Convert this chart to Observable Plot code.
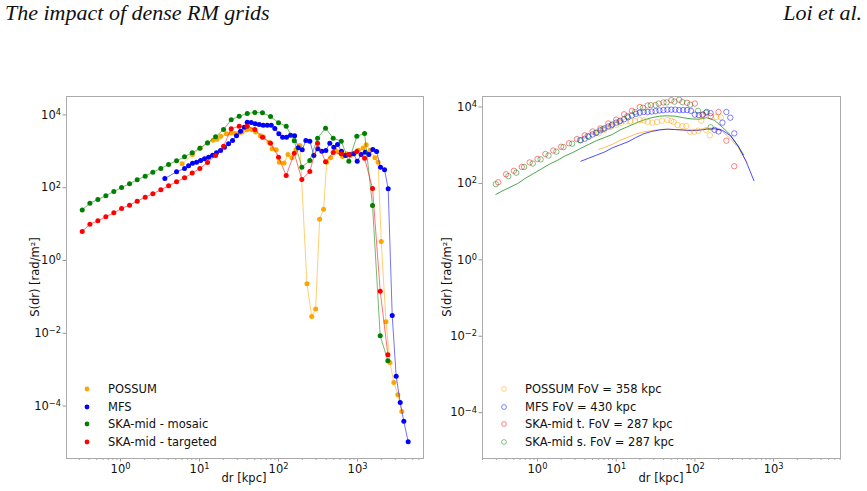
<!DOCTYPE html>
<html>
<head>
<meta charset="utf-8">
<script src="https://cdn.jsdelivr.net/npm/d3@7"></script>
<script src="https://cdn.jsdelivr.net/npm/@observablehq/plot@0.6"></script>
<style>
  html, body { margin: 0; padding: 0; background: #fff; }
  #wrap { position: relative; width: 867px; height: 491px; overflow: hidden; font-family: "DejaVu Sans", sans-serif; }
  .pl { position: absolute; top: 0; }
  .hdr { position: absolute; top: 0px; font-family: "Liberation Serif", serif; font-style: italic; font-size: 22px; line-height: 26px; color: #111; white-space: nowrap; }
  .lab { position: absolute; font-size: 11.5px; color: #111; white-space: nowrap; transform: translate(-50%, -50%); }
  .ylab { transform: translate(-50%, -50%) rotate(-90deg); }
  .leg { position: absolute; font-size: 11.5px; color: #111; white-space: nowrap; height: 16px; line-height: 16px; }
  .leg svg { position: absolute; top: 4px; }
</style>
</head>
<body>
<div id="wrap"></div>
<script>
// ---------- data (log10 values) ----------
// Left panel: S(dr) for each survey
const skaLogDr = [-0.485,-0.388,-0.287,-0.186,-0.085,0.013,0.114,0.211,0.312,0.409,0.51,0.608,0.709,0.81,0.907,1.004,1.101,1.203,1.304,1.401,1.502,1.604,1.70,1.797,1.899,2.0,2.097,2.199,2.295,2.396,2.494,2.595,2.692,2.794,2.89,2.991,3.089,3.19,3.287,3.384];
const mosaicLogS = [1.39,1.575,1.676,1.777,1.896,2.005,2.107,2.217,2.316,2.426,2.527,2.637,2.739,2.849,2.959,3.085,3.233,3.398,3.599,3.865,3.964,4.038,4.066,4.057,3.956,3.783,3.69,3.288,2.563,2.747,3.36,3.635,3.36,3.277,2.728,3.415,3.489,1.511,-2.07,-2.755];
const targetedLogS = [0.797,0.997,1.09,1.2,1.31,1.429,1.52,1.63,1.74,1.832,1.942,2.052,2.162,2.272,2.40,2.527,2.692,2.885,3.14,3.618,3.69,3.69,3.599,3.387,3.222,2.838,2.335,2.948,2.225,2.445,3.222,2.711,2.967,2.931,2.912,2.995,2.81,1.978,-0.843,-2.59];
const mfsLogDr = [0.561,0.709,0.81,0.861,0.911,0.962,1.013,1.063,1.114,1.165,1.215,1.266,1.316,1.367,1.418,1.468,1.519,1.566,1.604,1.654,1.705,1.756,1.806,1.857,1.908,1.953,2.004,2.051,2.101,2.152,2.203,2.249,2.30,2.346,2.396,2.447,2.497,2.548,2.599,2.649,2.70,2.747,2.797,2.848,2.899,2.949,2.996,3.046,3.097,3.143,3.194,3.241,3.291,3.342,3.388,3.439,3.489,3.54,3.586,3.641];
const mfsLogS = [2.253,2.437,2.527,2.601,2.674,2.70,2.747,2.794,2.838,2.893,2.959,3.022,3.113,3.205,3.297,3.426,3.553,3.663,3.80,3.79,3.755,3.736,3.717,3.717,3.717,3.626,3.48,3.387,3.387,3.442,3.426,3.096,3.041,3.297,3.277,2.885,3.069,3.003,3.022,3.222,3.113,3.187,3.003,2.885,2.912,2.931,2.728,2.912,2.975,2.912,3.05,2.995,2.563,2.49,1.97,-1.511,-3.178,-3.90,-4.42,-4.98];
const possumLogDr = [0.78,0.91,1.01,1.10,1.17,1.22,1.27,1.34,1.40,1.45,1.50,1.54,1.60,1.66,1.71,1.77,1.81,1.88,1.92,1.97,2.01,2.07,2.12,2.17,2.22,2.27,2.36,2.42,2.47,2.52,2.57,2.61,2.66,2.72,2.77,2.81,2.86,2.91,2.96,3.01,3.07,3.11,3.16,3.22,3.26,3.30,3.36,3.41,3.46,3.51,3.56];
const possumLogS = [2.655,2.91,3.09,3.22,3.30,3.33,3.41,3.48,3.50,3.49,3.50,3.53,3.59,3.59,3.53,3.43,3.39,3.25,3.07,3.04,2.70,2.68,2.91,2.82,3.04,3.16,-0.64,-1.54,-1.33,1.13,1.41,2.70,2.82,3.03,2.97,2.86,2.93,2.885,2.93,3.03,3.09,3.18,3.03,2.82,2.70,0.52,-1.68,-2.80,-3.35,-3.69,-4.15];

// Right panel: open circles (within FoV) and curves
const fovPossumLogDr = [0.78,0.85,0.93,1.00,1.06,1.12,1.18,1.24,1.30,1.35,1.40,1.46,1.52,1.58,1.65,1.70,1.73,1.78,1.84,1.89,1.94,1.99,2.04,2.08,2.14,2.19,2.27,2.33];
const fovPossumLogS = [3.31,3.40,3.48,3.53,3.58,3.62,3.63,3.63,3.66,3.65,3.61,3.59,3.61,3.64,3.66,3.64,3.61,3.53,3.50,3.50,3.35,3.35,3.38,3.64,3.40,3.26,3.74,3.73];
const fovMfsLogDr = [0.55,0.60,0.65,0.70,0.75,0.80,0.85,0.90,0.95,1.00,1.05,1.10,1.15,1.20,1.25,1.30,1.35,1.40,1.45,1.50,1.55,1.60,1.65,1.70,1.75,1.80,1.85,1.90,1.95,2.00,2.05,2.10,2.15,2.20,2.25,2.30,2.35,2.40,2.45,2.50];
const fovMfsLogS = [3.13,3.17,3.22,3.28,3.33,3.39,3.44,3.49,3.54,3.59,3.64,3.68,3.73,3.78,3.82,3.85,3.87,3.87,3.88,3.89,3.91,3.92,3.93,3.93,3.93,3.92,3.92,3.92,3.90,3.80,3.79,3.80,3.87,3.84,3.40,3.36,3.59,3.87,3.72,3.31];
const fovTargLogDr = [-0.50,-0.40,-0.30,-0.20,-0.10,0.00,0.10,0.20,0.30,0.40,0.50,0.60,0.70,0.80,0.90,1.00,1.10,1.20,1.30,1.40,1.50,1.60,1.70,1.80,1.90,2.00,2.10,2.20,2.30,2.40,2.50];
const fovTargLogS = [2.03,2.24,2.33,2.43,2.55,2.64,2.77,2.86,2.96,3.05,3.16,3.26,3.36,3.44,3.57,3.67,3.81,3.90,4.00,4.04,4.05,4.12,4.18,4.19,4.11,4.09,3.80,3.76,3.87,3.12,2.45];
const fovMosLogDr = [-0.53,-0.37,-0.27,-0.17,-0.06,0.04,0.14,0.24,0.33,0.44,0.54,0.64,0.74,0.83,0.94,1.04,1.14,1.24,1.34,1.44,1.54,1.64,1.74,1.84,1.94,2.04,2.14,2.20];
const fovMosLogS = [1.98,2.19,2.28,2.43,2.52,2.63,2.73,2.83,2.95,3.04,3.13,3.24,3.32,3.42,3.52,3.62,3.76,3.87,3.98,4.05,4.09,4.12,4.14,4.13,4.06,3.90,3.85,3.47];
const curveMosLogDr = [-0.53,-0.45,-0.35,-0.25,-0.15,-0.05,0.05,0.15,0.25,0.35,0.45,0.55,0.65,0.75,0.85,0.95,1.05,1.15,1.25,1.35,1.45,1.55,1.65,1.75,1.85,1.95,2.05,2.15,2.25,2.35,2.45,2.55,2.62];
const curveMosLogS = [1.71,1.80,1.90,2.00,2.14,2.26,2.38,2.50,2.60,2.72,2.81,2.92,3.02,3.12,3.20,3.28,3.40,3.49,3.58,3.66,3.72,3.76,3.77,3.76,3.72,3.69,3.68,3.72,3.65,3.47,3.27,2.97,2.75];
const curvePossumLogDr = [0.78,0.85,0.95,1.05,1.15,1.25,1.35,1.45,1.55,1.65,1.75,1.85,1.95,2.05,2.15,2.25,2.35,2.45,2.55,2.66];
const curvePossumLogS = [2.89,2.94,3.02,3.13,3.21,3.29,3.35,3.38,3.41,3.42,3.41,3.39,3.39,3.41,3.44,3.45,3.36,3.17,2.94,2.55];
const curveMfsLogDr = [0.55,0.65,0.75,0.85,0.95,1.05,1.15,1.25,1.35,1.45,1.55,1.65,1.75,1.85,1.95,2.05,2.15,2.25,2.35,2.45,2.55,2.65,2.75];
const curveMfsLogS = [2.58,2.66,2.74,2.82,2.93,3.01,3.09,3.20,3.30,3.36,3.40,3.42,3.41,3.40,3.38,3.39,3.42,3.43,3.39,3.25,2.98,2.58,2.07];

// Ticks and labels
const xTickExps = [0, 1, 2, 3];
const yTickExps = [-4, -2, 0, 2, 4];
const leftLegend = ["POSSUM", "MFS", "SKA-mid - mosaic", "SKA-mid - targeted"];
const rightLegend = ["POSSUM FoV = 358 kpc", "MFS FoV = 430 kpc", "SKA-mid t. FoV = 287 kpc", "SKA-mid s. FoV = 287 kpc"];
const colors = {possum: "#ffa500", mfs: "#0000ff", mosaic: "#008000", targeted: "#ff0000"};
const titleLeft = "The impact of dense RM grids";
const titleRight = "Loi et al.";
const xLabel = "dr [kpc]";
const yLabel = "S(dr) [rad/m²]";

// ---------- helpers ----------
const rows = (lx, ly) => lx.map((v, i) => ({dr: 10 ** v, S: 10 ** ly[i]}));
const xMajor = xTickExps.map(e => 10 ** e);
const yMajor = yTickExps.map(e => 10 ** e);
function minorTicks(lo, hi) {
  const out = [];
  for (let k = Math.floor(lo) - 1; k <= Math.ceil(hi); k++)
    for (let m = 2; m <= 9; m++) { const v = m * 10 ** k; if (Math.log10(v) >= lo && Math.log10(v) <= hi) out.push(v); }
  return out;
}
const expFmt = d => "10^" + Math.round(Math.log10(d));

function panel({width, marginLeft, marginRight, xLog, yLog, marks}) {
  const svg = Plot.plot({
    width, height: 491, marginLeft, marginRight, marginTop: 96, marginBottom: 33,
    style: {fontFamily: "DejaVu Sans", fontSize: "11.5px", background: "transparent", color: "#111", overflow: "visible"},
    x: {type: "log", domain: xLog.map(v => 10 ** v)},
    y: {type: "log", domain: yLog.map(v => 10 ** v)},
    marks: [
      Plot.axisX({ticks: minorTicks(xLog[0], xLog[1]), tickSize: 2, tickFormat: () => "", stroke: "#aaa", label: null}),
      Plot.axisX({ticks: xMajor, tickSize: 3.5, tickPadding: 3, tickFormat: expFmt, stroke: "#999", fill: "#111", label: null}),
      Plot.axisY({ticks: yMajor, tickSize: 3.5, tickPadding: 2, tickFormat: expFmt, stroke: "#999", fill: "#111", label: null}),
      ...marks,
      Plot.frame({stroke: "#aaa"})
    ]
  });
  // superscript exponents
  const ns = "http://www.w3.org/2000/svg";
  svg.querySelectorAll('g[aria-label$="tick label"] text').forEach(t => {
    const s = t.textContent;
    if (!s.includes("^")) return;
    const [b, e] = s.split("^");
    while (t.firstChild) t.removeChild(t.firstChild);
    const t1 = document.createElementNS(ns, "tspan"); t1.textContent = b;
    const t2 = document.createElementNS(ns, "tspan"); t2.textContent = e.replace("-", "\u2212");
    t2.setAttribute("dy", "-0.45em"); t2.setAttribute("font-size", "0.72em");
    t.append(t1, t2);
  });
  return svg;
}

const seriesLeft = [
  [rows(possumLogDr, possumLogS), colors.possum],
  [rows(mfsLogDr, mfsLogS), colors.mfs],
  [rows(skaLogDr, mosaicLogS), colors.mosaic],
  [rows(skaLogDr, targetedLogS), colors.targeted]
];
const leftMarks = seriesLeft.flatMap(([d, c]) => [
  Plot.line(d, {x: "dr", y: "S", stroke: c, strokeWidth: 1, strokeOpacity: 0.55}),
  Plot.dot(d, {x: "dr", y: "S", fill: c, r: 2.5})
]);

const curves = [
  [rows(curveMosLogDr, curveMosLogS), colors.mosaic],
  [rows(curvePossumLogDr, curvePossumLogS), colors.possum],
  [rows(curveMfsLogDr, curveMfsLogS), colors.mfs]
];
const circles = [
  [rows(fovPossumLogDr, fovPossumLogS), colors.possum],
  [rows(fovMfsLogDr, fovMfsLogS), colors.mfs],
  [rows(fovTargLogDr, fovTargLogS), colors.targeted],
  [rows(fovMosLogDr, fovMosLogS), colors.mosaic]
];
const rightMarks = [
  ...curves.map(([d, c]) => Plot.line(d, {x: "dr", y: "S", stroke: c, strokeWidth: 1, strokeOpacity: 0.7})),
  ...circles.map(([d, c]) => Plot.dot(d, {x: "dr", y: "S", stroke: c, fill: "none", r: 2.7, strokeWidth: 0.9, strokeOpacity: 0.55}))
];

const wrap = document.getElementById("wrap");
function place(el, left) { const d = document.createElement("div"); d.className = "pl"; d.style.left = left + "px"; d.append(el); wrap.append(d); }

place(panel({width: 433, marginLeft: 66, marginRight: 10, xLog: [-0.684, 3.835], yLog: [-5.44, 4.505], marks: leftMarks}), 0);
place(panel({width: 434, marginLeft: 49, marginRight: 27, xLog: [-0.699, 3.85], yLog: [-5.2, 4.275], marks: rightMarks}), 433);

function addDiv(cls, text, css) { const d = document.createElement("div"); d.className = cls; d.textContent = text; Object.assign(d.style, css); wrap.append(d); return d; }
addDiv("hdr", titleLeft, {left: "5px"});
addDiv("hdr", titleRight, {right: "5px"});
addDiv("lab", xLabel, {left: "244px", top: "478px"});
addDiv("lab", xLabel, {left: "661px", top: "478px"});
addDiv("lab ylab", yLabel, {left: "35px", top: "277px"});
addDiv("lab ylab", yLabel, {left: "447px", top: "277px"});

const legColors = [colors.possum, colors.mfs, colors.mosaic, colors.targeted];
const legColorsR = [colors.possum, colors.mfs, colors.targeted, colors.mosaic];
const rowY = [389, 406.5, 424, 441.5];
function legend(labels, cols, mx, tx, hollow) {
  labels.forEach((lab, i) => {
    const d = document.createElement("div");
    d.className = "leg";
    d.style.left = (mx - 4) + "px"; d.style.top = (rowY[i] - 8) + "px";
    const mark = hollow
      ? `<circle cx="4" cy="4" r="2.4" fill="none" stroke="${cols[i]}" stroke-opacity="0.55" stroke-width="0.9"/>`
      : `<circle cx="4" cy="4" r="2.4" fill="${cols[i]}"/>`;
    d.innerHTML = `<svg width="8" height="8" style="left:0">${mark}</svg><span style="position:absolute;left:${tx - mx + 4}px">${lab}</span>`;
    wrap.append(d);
  });
}
legend(leftLegend, legColors, 87, 108, false);
legend(rightLegend, legColorsR, 504, 525, true);
</script>
</body>
</html>
